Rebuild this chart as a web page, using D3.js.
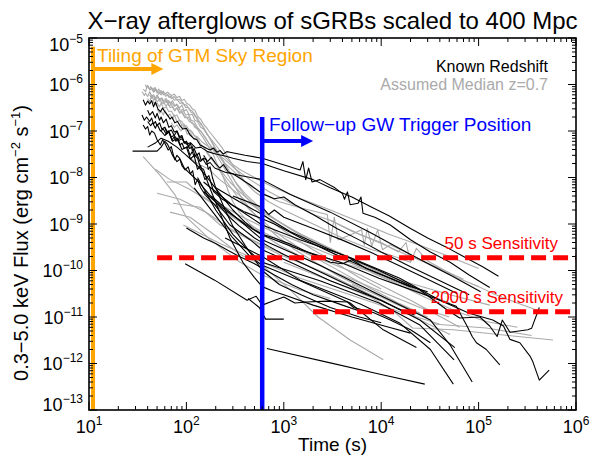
<!DOCTYPE html>
<html><head><meta charset="utf-8">
<script src="https://cdn.jsdelivr.net/npm/d3@7"></script>
<style>body{margin:0;background:#fff}text{font-family:"Liberation Sans",Arial,Helvetica,sans-serif}</style>
</head><body><svg id="c" width="592" height="459"></svg>
<script>
// ---- Data: [time (s), flux (erg cm^-2 s^-1)] ----
const known01=[[36,4.7e-7],[38,3.6e-7],[40,4.4e-7],[42,3.8e-7],[44,4.5e-7],[46,3.3e-7],[48,4.2e-7],[51,3e-7],[54,2.6e-7],[57,3.1e-7],[60,2.6e-7],[64,2.2e-7],[68,1.8e-7],[71,2e-7],[76,1.5e-7],[81,1.6e-7],[86,1.3e-7],[92,1.1e-7],[100,1.15e-7],[109,8.2e-8],[118,7e-8],[128,6.5e-8],[138,5e-8],[150,4.6e-8],[162,4.2e-8],[175,3.9e-8],[190,4.3e-8],[205,3.5e-8],[222,3.8e-8],[240,3.2e-8],[260,3.6e-8],[280,3.5e-8],[400,3e-8],[600,2.6e-8],[900,2e-8],[1470,1.45e-8],[1570,2.2e-8],[1680,9e-9],[1800,1.6e-8],[1950,8e-9],[2350,9e-9],[3350,6e-9],[4000,4.5e-9],[4200,3.4e-9],[4500,4.9e-9],[4800,2.6e-9],[5800,2.8e-9],[6200,3.8e-9],[6500,1.7e-9],[8600,1.4e-9],[1.24e4,9.5e-10],[2e4,4.6e-10],[3.2e4,2.5e-10],[5.1e4,1.5e-10],[8e4,8e-11],[1.3e5,4.3e-11]];
const known02=[[35,2.2e-7],[37,1.7e-7],[39,2e-7],[42,1.6e-7],[44,1.9e-7],[46,1.4e-7],[48,1.6e-7],[50,1.3e-7],[53,1.5e-7],[56,1.1e-7],[60,1.2e-7],[63,9e-8],[66,1e-7],[71,6.4e-8],[75,7.5e-8],[78,6e-8],[82,7e-8],[86,5e-8],[90,5.5e-8],[95,4.2e-8],[102,4.6e-8],[109,3e-8],[115,3.6e-8],[120,2.8e-8],[128,3.2e-8],[138,2.2e-8],[148,2.5e-8],[160,1.9e-8],[175,2.1e-8],[195,1.6e-8],[250,1.3e-8],[356,1.1e-8],[600,9e-9],[1170,4.3e-9],[3000,1.8e-9],[7800,6.5e-10],[2e4,2.2e-10],[5.1e4,8e-11],[1.05e5,3.5e-11]];
const known03=[[36,1.35e-7],[38,1.1e-7],[40,1.25e-7],[42,8.2e-8],[44,1e-7],[47,9e-8],[50,6.5e-8],[54,5e-8],[57,6.5e-8],[60,5.5e-8],[65,3.9e-8],[70,4.6e-8],[73,3.2e-8],[76,2.4e-8],[80,3e-8],[85,2.6e-8],[90,1.8e-8],[97,1.45e-8],[104,1.7e-8],[110,1.2e-8],[116,1.4e-8],[123,7e-9],[130,9e-9],[140,6e-9],[155,4.3e-9],[195,2.6e-9],[280,9.5e-10],[450,4.6e-10],[600,2.8e-10],[1170,1.5e-10],[3000,6e-11],[1e4,2.3e-11],[2.5e4,8.6e-12],[5.7e4,2.2e-12]];
const known04=[[40,1.6e-7],[43,1.3e-7],[45,1.5e-7],[48,1.15e-7],[50,1.4e-7],[54,1e-7],[58,1.1e-7],[62,8.5e-8],[65,1e-7],[70,7.5e-8],[75,8e-8],[82,6.2e-8],[90,6.8e-8],[100,5.2e-8],[110,5.6e-8],[125,4.3e-8],[140,4.5e-8],[165,3.6e-8],[200,3.2e-8],[250,2.9e-8],[300,2.6e-8],[420,2.2e-8],[600,2e-8],[1000,1.4e-8],[2000,9e-9],[3000,6e-9],[5000,3.8e-9],[8000,2.3e-9],[1.2e4,1.5e-9],[2e4,8e-10],[3e4,5e-10],[4.5e4,3.3e-10],[7e4,2e-10],[1.1e5,1.2e-10],[1.6e5,7.5e-11]];
const known05=[[28,3.7e-8],[40,3.7e-8],[50,3.7e-8],[55,4.5e-8],[60,6e-8],[64,5.2e-8],[68,4e-8],[72,3e-8],[80,2.2e-8],[86,2.5e-8],[95,1.6e-8],[105,1.3e-8],[120,1e-8],[135,8e-9],[150,6e-9],[200,3e-9],[260,1.6e-9],[350,9e-10],[500,5e-10],[700,3.3e-10],[1000,2.2e-10],[2000,1.1e-10],[4000,5.5e-11],[8000,2.8e-11],[1.5e4,1.5e-11],[2.2e4,1.1e-11]];
const known06=[[97,1.4e-10],[195,6.2e-11],[420,2.3e-11],[520,2.8e-11],[600,1.8e-11],[810,2.3e-11],[1000,2.7e-11],[1300,2e-11],[1700,2.1e-11],[2800,2.2e-11],[4500,2.1e-11],[5200,1.6e-11],[8300,1.25e-11],[1.24e4,8.6e-12],[2e4,5.3e-12],[3.2e4,2.8e-12]];
const known07=[[430,2.5e-11],[560,1.6e-11],[650,9e-12],[1000,9e-12]];
const known08=[[670,2.1e-12],[3000,1.03e-12],[1e4,5.8e-13],[2.8e4,3.6e-13]];
const known09=[[150,5e-9],[250,2e-9],[400,1e-9],[600,5.8e-10],[1470,2.8e-10],[3800,1.5e-10],[9500,6.8e-11],[2.5e4,3.3e-11],[5.9e4,1.7e-11],[7.6e4,6.4e-12],[8.6e4,3.8e-12],[9.5e4,2.8e-12],[1.2e5,2e-12],[1.65e5,9.3e-13]];
const known10=[[200,6e-9],[350,3e-9],[600,1.6e-9],[1170,6.8e-10],[3000,2.8e-10],[9500,1e-10],[2.5e4,3.8e-11],[4.8e4,1.4e-11],[6.4e4,9.5e-12],[1.03e5,1e-11],[1.3e5,6.4e-12],[1.55e5,3.8e-12],[1.75e5,8.6e-12],[2.1e5,4.7e-12],[3.2e5,5.3e-12],[3.5e5,5.7e-12],[4.2e5,1.6e-11]];
const known11=[[150,8e-9],[300,2.5e-9],[600,9.5e-10],[1470,4.6e-10],[4800,1.9e-10],[1.55e4,6.8e-11],[4e4,2.3e-11],[8e4,1.2e-11],[1.4e5,8.6e-12],[1.8e5,6.4e-12],[2.1e5,3.3e-12],[2.65e5,2.8e-12],[3.4e5,1.4e-12],[3.6e5,1.1e-12],[4.2e5,4.4e-13],[5.3e5,7.2e-13]];
const known12=[[120,6e-9],[200,1.5e-9],[300,5e-10],[450,2e-10],[600,1.3e-10],[1470,6e-11],[4800,2e-11],[1.05e4,5.3e-12],[2.3e4,2.2e-12]];
const known13=[[180,4e-9],[350,1.2e-9],[600,4.6e-10],[2350,1.3e-10],[9500,3e-11],[3.2e4,8.6e-12],[5.1e4,2.5e-12],[8.6e4,4e-13]];
const known14=[[130,1e-8],[200,2e-9],[300,6e-10],[450,2.5e-10],[600,1.5e-10],[2350,6e-11],[9500,2e-11],[2.5e4,6.7e-12],[5.6e4,1.2e-12]];
const known15=[[250,5e-10],[600,2e-10],[1470,6.2e-11],[6100,1.9e-11],[1.55e4,7.4e-12],[3.2e4,2e-12],[5.5e4,3.6e-13]];
const known16=[[40,2.8e-7],[42,2.2e-7],[45,2.6e-7],[48,1.9e-7],[50,2.4e-7],[53,1.7e-7],[55,2e-7],[58,1.5e-7],[62,1.8e-7],[66,1.2e-7],[70,1.3e-7],[75,9.5e-8],[80,1e-7],[85,7.5e-8],[90,8e-8],[95,5.5e-8],[100,6e-8],[108,4.2e-8],[115,4.6e-8],[122,3e-8],[130,2.6e-8],[140,1.6e-8],[150,1.5e-8],[165,8e-9],[180,5e-9],[220,1.8e-9],[280,5e-10],[380,1.5e-10],[500,7e-11],[600,4.5e-11],[800,3.5e-11],[1000,3e-11],[2000,1.8e-11],[5000,1e-11],[1.2e4,6e-12],[2e4,4.5e-12]];
const known17=[[60,1.2e-7],[64,9.5e-8],[70,1.05e-7],[75,8e-8],[80,1e-7],[85,7e-8],[90,7.5e-8],[95,5.5e-8],[100,6e-8],[105,4.5e-8],[110,5.5e-8],[115,3.8e-8],[120,4.2e-8],[128,3e-8],[135,3.4e-8],[142,2.3e-8],[150,2.6e-8],[160,2.4e-8],[168,1.5e-8],[175,1.7e-8],[185,1e-8],[200,6e-9],[250,2e-9],[300,9e-10],[400,3.5e-10],[600,1e-10],[900,5e-11],[1500,3e-11],[3000,1.6e-11],[6000,1e-11],[1e4,7.5e-12]];
const known18=[[40,4.5e-8],[48,5.5e-8],[55,7e-8],[65,6e-8],[80,4.5e-8],[100,3e-8],[130,1.8e-8],[170,9e-9],[220,4.5e-9],[300,2e-9],[400,1.1e-9],[500,7.5e-10],[600,6e-10],[800,5e-10],[1200,3.6e-10],[2000,2.2e-10],[3000,1.5e-10],[4000,1.4e-10],[5000,1.7e-10],[7000,1.1e-10],[1.2e4,7e-11],[2e4,4.5e-11],[3e4,3.5e-11]];
const known19=[[100,8.2e-10],[150,5e-10],[200,3.8e-10],[260,2.8e-10],[350,2e-10],[500,1.4e-10],[800,8e-11],[1200,5e-11],[2000,3e-11],[4000,1.8e-11],[7000,1.2e-11]];
const known20=[[300,4e-9],[600,2.3e-9],[700,1.6e-9],[800,2e-9],[1000,1.4e-9],[2000,8e-10],[4000,4.5e-10],[8000,2.4e-10],[1.5e4,1.3e-10],[3e4,6.5e-11],[6e4,3.2e-11]];
const known21=[[150,3e-8],[165,2.2e-8],[180,2.7e-8],[200,2e-8],[220,1.6e-8],[240,1.9e-8],[270,1.3e-8],[300,1.2e-8],[450,7e-9],[600,4.5e-9],[800,3.5e-9],[1000,3.8e-9],[1300,2.6e-9],[2000,1.6e-9],[3500,8e-10],[6000,4.5e-10],[1e4,2.5e-10],[2e4,1.2e-10],[4e4,6e-11],[8e4,3e-11]];
const known22=[[55,1e-7],[60,8e-8],[66,9.5e-8],[72,6e-8],[80,7e-8],[90,4e-8],[100,4.5e-8],[110,2.5e-8],[120,3e-8],[130,1.5e-8],[140,1.8e-8],[155,9e-9],[170,1.1e-8],[190,5e-9],[230,3.5e-9],[300,2.5e-9],[400,1.8e-9],[600,1.3e-9],[800,1e-9],[1500,5e-10],[3000,2.5e-10],[6000,1.3e-10],[1.2e4,7e-11],[2e4,4.5e-11]];

const assumed01=[[38,1e-6],[39,8.5e-7],[40,9.5e-7],[42,7.8e-7],[43,9e-7],[45,7.5e-7],[47,8.5e-7],[50,7e-7],[52,8e-7],[55,6.5e-7],[58,7.2e-7],[60,6.2e-7],[64,6.8e-7],[70,5.8e-7],[75,6.2e-7],[80,5.2e-7],[85,5.6e-7],[90,4.5e-7],[95,4.8e-7],[100,4e-7],[108,3.6e-7],[115,3e-7],[122,2.8e-7],[130,2.1e-7],[140,1.8e-7],[150,1.4e-7],[160,1.2e-7],[170,1e-7],[185,8e-8],[200,6.5e-8],[230,4.5e-8],[260,3e-8],[300,1.8e-8],[350,1.2e-8],[400,8e-9],[500,5e-9],[700,3e-9],[1000,2e-9],[2000,1e-9],[4000,5e-10],[8000,2.8e-10],[1.2e4,2.2e-10],[2e4,1.5e-10]];
const assumed02=[[35,7e-7],[37,5.8e-7],[38,6.5e-7],[40,5.5e-7],[42,7e-7],[44,5.6e-7],[46,6e-7],[48,5e-7],[50,6e-7],[53,4.8e-7],[56,5.2e-7],[59,4.3e-7],[62,5e-7],[66,4e-7],[70,4.2e-7],[75,3.4e-7],[80,3.6e-7],[86,2.8e-7],[92,2.9e-7],[98,2.2e-7],[105,2.3e-7],[112,1.7e-7],[120,1.6e-7],[130,1.2e-7],[140,1e-7],[155,7.5e-8],[170,5.5e-8],[200,3.5e-8],[250,2e-8],[300,1.4e-8],[400,8e-9],[600,4.5e-9],[900,3e-9],[1500,2.2e-9],[2800,1.6e-9],[3000,4e-10],[3300,1.4e-9],[3600,4.6e-10],[4800,5.8e-10],[6300,7.5e-10],[6700,3.5e-10],[7200,8e-10],[8000,3.4e-10],[9200,7.4e-10],[1.03e4,2.8e-10],[1.24e4,3.6e-10],[2e4,2.2e-10],[3.2e4,1.3e-10],[5.1e4,8e-11]];
const assumed03=[[36,8e-7],[38,7e-7],[40,9.5e-7],[42,7.6e-7],[44,8.2e-7],[46,6.8e-7],[48,8.5e-7],[50,6.6e-7],[52,7e-7],[55,6e-7],[58,7e-7],[61,5.6e-7],[65,6e-7],[70,5e-7],[75,5.5e-7],[80,4.6e-7],[85,4.8e-7],[92,3.8e-7],[100,3.6e-7],[107,2.9e-7],[115,2.7e-7],[122,2.1e-7],[130,1.9e-7],[140,1.4e-7],[150,1.2e-7],[162,8.5e-8],[175,7e-8],[200,4.2e-8],[240,2.3e-8],[280,1.3e-8],[330,7e-9],[400,4e-9],[550,2e-9],[800,1e-9],[1200,5.5e-10],[2000,2.8e-10],[3500,1.4e-10],[6000,7e-11],[1e4,4e-11]];
const assumed04=[[42,6e-7],[44,5e-7],[46,5.6e-7],[48,4.6e-7],[50,5.5e-7],[53,4.4e-7],[56,4.8e-7],[59,3.8e-7],[62,4.5e-7],[66,3.5e-7],[70,3.7e-7],[75,2.9e-7],[80,3.1e-7],[85,2.5e-7],[90,2.7e-7],[95,2.1e-7],[100,2e-7],[107,1.6e-7],[115,1.5e-7],[122,1.2e-7],[130,1.1e-7],[140,8.5e-8],[150,7e-8],[170,4.5e-8],[190,3e-8],[210,1.8e-8],[240,1e-8],[270,5e-9],[300,3e-9],[350,1.8e-9],[450,1e-9],[600,6e-10],[900,3.5e-10],[1500,2e-10],[3000,1e-10],[6000,5.5e-11],[1.2e4,3e-11],[2.5e4,1.6e-11],[5e4,1e-11]];
const assumed05=[[45,4.5e-7],[48,3.6e-7],[50,4e-7],[53,3.3e-7],[55,4e-7],[58,3.1e-7],[62,3.3e-7],[66,2.6e-7],[70,2.7e-7],[75,2.1e-7],[80,2.2e-7],[85,1.7e-7],[90,1.6e-7],[95,1.3e-7],[100,1.3e-7],[108,1e-7],[115,9.5e-8],[122,7.6e-8],[130,7e-8],[140,5.2e-8],[150,4.6e-8],[165,3.4e-8],[180,2.7e-8],[220,1.4e-8],[260,8e-9],[330,4e-9],[450,2e-9],[700,9e-10],[1000,5e-10],[2000,2e-10],[4000,9e-11],[8000,4e-11],[1.5e4,2e-11],[2.5e4,1.2e-11]];
const assumed06=[[36,2.8e-8],[54,1.1e-8],[76,4.3e-9],[100,1.4e-9],[175,4.6e-10],[356,1.5e-10],[600,8e-11],[1470,3.8e-11],[3000,2.5e-11]];
const assumed07=[[48,1.5e-8],[68,9e-9],[109,5.5e-9],[195,2.6e-9],[356,1.1e-9],[600,5.8e-10],[1470,2.8e-10],[4800,1.3e-10],[1.55e4,6.2e-11],[5.1e4,3e-11],[1.3e5,1.8e-11]];
const assumed08=[[50,4.6e-9],[86,3.4e-9],[165,1.7e-9],[280,8e-10],[600,3.6e-10],[1470,1.5e-10],[3800,6.2e-11],[1.03e4,2.3e-11],[2.5e4,8.6e-12],[5.1e4,4.2e-12]];
const assumed09=[[63,8e-9],[100,8e-9],[138,4.3e-9],[280,1.6e-9],[600,6.8e-10],[1800,2.2e-10],[6100,8e-11],[2e4,2.3e-11],[6.4e4,6e-12]];
const assumed10=[[73,2.8e-9],[138,2.3e-9],[222,9.5e-10],[450,4.6e-10],[900,2.2e-10],[3000,8e-11],[9500,2.3e-11]];
const assumed11=[[68,1.8e-9],[109,1.4e-9],[195,5.8e-10],[356,2.2e-10],[600,1.3e-10],[1170,3.8e-11],[2250,1e-11],[4800,3.2e-12],[1.05e4,1.2e-12]];
const assumed12=[[93,9.5e-10],[222,3.8e-10],[600,1.5e-10],[1470,6.8e-11],[4800,3e-11],[1.55e4,1.3e-11],[4e4,7e-12]];
const assumed13=[[1000,1.5e-10],[3000,6e-11],[8000,2.6e-11],[1.3e4,1.4e-11],[2.1e4,5.8e-12],[5.5e4,5.3e-12],[1.8e5,4.1e-12],[5.8e5,3.2e-12]];
const assumed14=[[5000,5e-11],[1e4,2.8e-11],[2e4,1.5e-11],[3.7e4,7e-12],[1.2e5,5.8e-12],[3.5e5,4e-12]];
const assumed15=[[3000,1.2e-9],[6000,6e-10],[1e4,4e-10],[1.5e4,2.5e-10],[1.8e4,4e-10],[2e4,1.5e-10],[2.3e4,3e-10],[3e4,1.6e-10],[4.5e4,1e-10],[6e4,7e-11],[1e5,4.5e-11],[1.5e5,3e-11],[2.5e5,2e-11],[4e5,1.4e-11]];
const assumed16=[[40,5e-7],[42,4.2e-7],[44,6e-7],[46,4.6e-7],[48,5e-7],[50,4.2e-7],[53,5e-7],[56,3.9e-7],[58,4.2e-7],[62,3.4e-7],[65,4e-7],[68,3.2e-7],[72,3.3e-7],[76,2.7e-7],[80,3.2e-7],[85,2.4e-7],[90,2.5e-7],[97,1.9e-7],[105,2e-7],[112,1.5e-7],[120,1.4e-7],[130,1.1e-7],[140,1e-7],[165,6e-8],[195,3.5e-8],[230,2e-8],[270,1.1e-8],[320,6e-9],[380,3.3e-9],[480,1.8e-9],[650,9e-10],[900,5e-10],[1300,2.8e-10],[2000,1.6e-10],[3500,8e-11],[7000,3.8e-11],[1.5e4,1.8e-11],[3e4,1e-11]];
const assumed17=[[50,3e-7],[53,2.4e-7],[55,2.7e-7],[58,2.2e-7],[60,2.8e-7],[64,2.1e-7],[68,2.3e-7],[72,1.8e-7],[75,2.2e-7],[80,1.6e-7],[85,1.7e-7],[90,1.3e-7],[95,1.4e-7],[102,1e-7],[110,1.05e-7],[120,8e-8],[130,7.5e-8],[145,5.8e-8],[160,5e-8],[180,4.2e-8],[200,3.5e-8],[250,2.4e-8],[320,1.5e-8],[450,9e-9],[700,5e-9],[1100,3e-9],[2000,1.6e-9],[3000,1.2e-9],[5000,7e-10],[1e4,3.8e-10],[2e4,2e-10],[4e4,1.1e-10],[7e4,6.5e-11]];
const assumed18=[[70,1.5e-7],[75,1.2e-7],[80,1.35e-7],[88,1e-7],[95,1.3e-7],[102,8.5e-8],[110,9e-8],[120,6.5e-8],[130,7e-8],[140,4.8e-8],[150,4.6e-8],[165,3.2e-8],[180,2.5e-8],[220,1.5e-8],[280,8e-9],[350,5e-9],[500,2.6e-9],[800,1.3e-9],[1200,7.5e-10],[2000,4e-10],[4000,1.8e-10],[8000,9e-11],[1.5e4,5e-11],[3e4,2.5e-11],[6e4,1.3e-11],[1.2e5,8e-12],[2.5e5,6e-12]];
const assumed19=[[100,3e-8],[130,2e-8],[170,1.5e-8],[220,9e-9],[300,5.5e-9],[420,3e-9],[600,1.8e-9],[900,1.1e-9],[1500,6e-10],[3000,3e-10],[6000,1.5e-10],[1.2e4,7e-11],[2.5e4,3.5e-11],[5e4,2e-11]];
const assumed20=[[60,5e-7],[63,4.1e-7],[66,4.5e-7],[69,3.8e-7],[72,4.5e-7],[76,3.5e-7],[80,3.8e-7],[85,3.1e-7],[90,3.6e-7],[95,2.7e-7],[100,2.9e-7],[107,2.2e-7],[115,2.3e-7],[122,1.7e-7],[130,1.6e-7],[140,1.2e-7],[150,1.1e-7],[175,7e-8],[200,5e-8],[240,3e-8],[290,2e-8],[350,1.5e-8],[500,1e-8],[800,6e-9],[1500,3.5e-9],[3000,2e-9],[6000,1.1e-9],[1.2e4,6e-10],[2.5e4,3.5e-10],[5e4,2e-10],[1e5,1.1e-10]];
const assumed21=[[200,3e-9],[356,1.5e-9],[750,7e-10],[1500,4e-10],[3000,2.2e-10],[6000,1.2e-10],[1.2e4,6.5e-11],[2.5e4,3.5e-11],[5e4,2e-11]];
const assumed22=[[45,8.5e-7],[47,7e-7],[49,7.8e-7],[52,6.2e-7],[55,7.4e-7],[58,6e-7],[62,6.5e-7],[66,5.3e-7],[70,5.6e-7],[75,4.6e-7],[80,4.8e-7],[86,3.9e-7],[92,4.1e-7],[98,3.2e-7],[105,3.2e-7],[112,2.5e-7],[120,2.4e-7],[130,1.7e-7],[140,1.5e-7],[152,1.1e-7],[165,8.5e-8],[180,6e-8],[200,4e-8],[230,2.4e-8],[270,1.4e-8],[320,8e-9],[400,4.5e-9],[550,2.4e-9],[800,1.3e-9],[1300,7e-10],[2500,3.5e-10],[5000,1.7e-10],[1e4,9e-11],[2e4,5e-11]];

const knownCurves=[known01,known02,known03,known04,known05,known06,known07,known08,known09,known10,known11,known12,known13,known14,known15,known16,known17,known18,known19,known20,known21,known22];
const assumedCurves=[assumed01,assumed02,assumed03,assumed04,assumed05,assumed06,assumed07,assumed08,assumed09,assumed10,assumed11,assumed12,assumed13,assumed14,assumed15,assumed16,assumed17,assumed18,assumed19,assumed20,assumed21,assumed22];

const xDomain=[10,1e6];
const yDomain=[1e-13,1e-5];
const xTickExps=[1,2,3,4,5,6];
const yTickExps=[-5,-6,-7,-8,-9,-10,-11,-12,-13];
const tilingTime=11, tilingTop=6.5e-6, tilingArrowFlux=2.15e-6, tilingArrowEnd=58;
const gwTime=600, gwTop=2e-7, gwArrowFlux=6.1e-8, gwArrowEnd=2000;
const sens50=[50,1.88e-10], sens2000=[2000,1.3e-11];

// ---- Drawing ----
const svg=d3.select('#c');
const L=89,R=576,T=38,B=410;
const x=d3.scaleLog().domain(xDomain).range([L,R]);
const y=d3.scaleLog().domain(yDomain).range([B,T]);

svg.append('defs').append('clipPath').attr('id','clip').append('rect').attr('x',L).attr('y',T).attr('width',R-L).attr('height',B-T);
const plot=svg.append('g').attr('clip-path','url(#clip)');
const line=d3.line().x(d=>x(d[0])).y(d=>y(d[1]));

plot.selectAll('path.as').data(assumedCurves).join('path').attr('class','as')
  .attr('d',line).attr('fill','none').attr('stroke','#aaaaaa').attr('stroke-width',1.1).attr('stroke-linejoin','round');
plot.selectAll('path.kn').data(knownCurves).join('path').attr('class','kn')
  .attr('d',line).attr('fill','none').attr('stroke','#000').attr('stroke-width',1.1).attr('stroke-linejoin','round');

[sens50,sens2000].forEach(s=>{
  plot.append('line').attr('x1',x(s[0])).attr('x2',R).attr('y1',y(s[1])).attr('y2',y(s[1]))
    .attr('stroke','#ff0000').attr('stroke-width',5).attr('stroke-dasharray','15,7');
});
plot.append('line').attr('x1',x(tilingTime)).attr('x2',x(tilingTime)).attr('y1',y(tilingTop)).attr('y2',B)
  .attr('stroke','#ffa500').attr('stroke-width',4);
plot.append('line').attr('x1',x(gwTime)).attr('x2',x(gwTime)).attr('y1',y(gwTop)).attr('y2',B)
  .attr('stroke','#0000ff').attr('stroke-width',4.5);
function arrow(x0,x1,yy,col){
  plot.append('line').attr('x1',x0).attr('x2',x1-10).attr('y1',yy).attr('y2',yy).attr('stroke',col).attr('stroke-width',4);
  plot.append('path').attr('d',`M${x1},${yy}L${x1-12},${yy-6}L${x1-12},${yy+6}Z`).attr('fill',col);
}
arrow(x(tilingTime),x(tilingArrowEnd),y(tilingArrowFlux),'#ffa500');
arrow(x(gwTime),x(gwArrowEnd),y(gwArrowFlux),'#0000ff');

const ax=svg.append('g').attr('stroke','#000').attr('stroke-width',1);
const isMajor=v=>Math.abs(Math.log10(v)-Math.round(Math.log10(v)))<1e-6;
x.ticks().forEach(v=>{
  const px=x(v), len=isMajor(v)?8:4;
  ax.append('line').attr('x1',px).attr('x2',px).attr('y1',B).attr('y2',B-len);
  ax.append('line').attr('x1',px).attr('x2',px).attr('y1',T).attr('y2',T+len);
});
y.ticks().forEach(v=>{
  const py=y(v), len=isMajor(v)?8:4;
  ax.append('line').attr('x1',L).attr('x2',L+len).attr('y1',py).attr('y2',py);
  ax.append('line').attr('x1',R).attr('x2',R-len).attr('y1',py).attr('y2',py);
});
svg.append('rect').attr('x',L).attr('y',T).attr('width',R-L).attr('height',B-T)
  .attr('fill','none').attr('stroke','#000').attr('stroke-width',1.6);

xTickExps.forEach(e=>{
  const t=svg.append('text').attr('x',x(Math.pow(10,e))).attr('y',433).attr('text-anchor','middle')
    .attr('font-size',18).attr('fill','#000');
  t.append('tspan').text('10');
  t.append('tspan').attr('dy',-8).attr('font-size',12).text(String(e));
});
yTickExps.forEach((e,i)=>{
  let yy=y(Math.pow(10,e))+6.5;
  if(i===0) yy+=6; if(i===yTickExps.length-1) yy-=6;
  const t=svg.append('text').attr('x',83).attr('y',yy).attr('text-anchor','end')
    .attr('font-size',18).attr('fill','#000');
  t.append('tspan').text('10');
  t.append('tspan').attr('dy',-8).attr('font-size',12).text('\u2212'+Math.abs(e));
});

svg.append('text').attr('x',332.5).attr('y',29).attr('text-anchor','middle').attr('font-size',24).text('X\u2212ray afterglows of sGRBs scaled to 400 Mpc');
svg.append('text').attr('x',332.5).attr('y',451).attr('text-anchor','middle').attr('font-size',19).text('Time (s)');
const yl=svg.append('text').attr('transform','translate(28,243) rotate(-90)').attr('text-anchor','middle').attr('font-size',20);
yl.append('tspan').text('0.3\u22125.0 keV Flux (erg cm');
yl.append('tspan').attr('dy',-8).attr('font-size',13).text('\u22122');
yl.append('tspan').attr('dy',8).text(' s');
yl.append('tspan').attr('dy',-8).attr('font-size',13).text('\u22121');
yl.append('tspan').attr('dy',8).text(')');

svg.append('text').attr('x',97).attr('y',62).attr('font-size',19).attr('fill','#ffa500').text('Tiling of GTM Sky Region');
svg.append('text').attr('x',269).attr('y',131).attr('font-size',19).attr('fill','#0000ff').text('Follow\u2212up GW Trigger Position');
svg.append('text').attr('x',548).attr('y',72).attr('text-anchor','end').attr('font-size',16).attr('fill','#000').text('Known Redshift');
svg.append('text').attr('x',548).attr('y',90).attr('text-anchor','end').attr('font-size',16).attr('fill','#aaaaaa').text('Assumed Median z=0.7');
svg.append('text').attr('x',558).attr('y',248.5).attr('text-anchor','end').attr('font-size',17).attr('fill','#ff0000').text('50 s Sensitivity');
svg.append('text').attr('x',563).attr('y',303).attr('text-anchor','end').attr('font-size',17).attr('fill','#ff0000').text('2000 s Sensitivity');
</script></body></html>
